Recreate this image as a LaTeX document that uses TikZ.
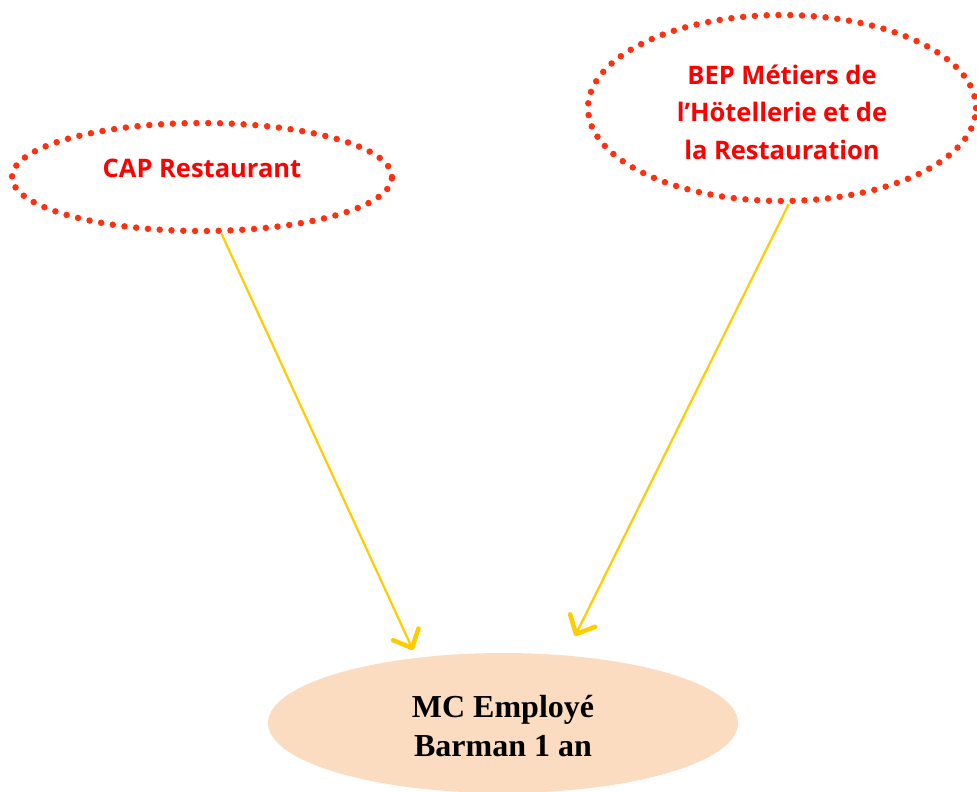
\documentclass[tikz,border=0pt]{standalone}
\usepackage{fontspec}
\setmainfont{Liberation Serif}
\newfontfamily\comicfont{Open Sans}
\usetikzlibrary{shapes.geometric,arrows.meta}
\definecolor{dotred}{HTML}{FF3010}
\definecolor{txtred}{HTML}{FF0000}
\definecolor{peach}{HTML}{FBDCC1}
\definecolor{gold}{HTML}{FFCC00}
\tikzset{
  dotted ellipse/.style={ellipse, draw=dotred, line width=6.5pt, line cap=round,
     dash pattern=on 0pt off 11.8pt, inner sep=0pt},
  redtext/.style={text=txtred, align=center,
     font=\comicfont\bfseries\fontsize{25.5}{37.5}\selectfont},
  target/.style={ellipse, fill=peach, draw=none, inner sep=0pt},
  blacktext/.style={align=center, font=\bfseries\fontsize{32}{39}\selectfont},
  link/.style={draw=gold, line width=2.2pt,
     -{Straight Barb[length=15pt,width=28pt,line width=4.5pt,round]}}
}
\begin{document}
\begin{tikzpicture}[x=1pt,y=-1pt]
\useasboundingbox (0,0) rectangle (977,792);
\clip (0,0) rectangle (977,792);
\node[dotted ellipse, minimum width=380pt, minimum height=108pt] (cap) at (202,177) {};
\node[redtext] (captxt) at (202,168) {CAP Restaurant};
\node[dotted ellipse, minimum width=388pt, minimum height=186pt] (bep) at (782,108) {};
\node[redtext] (beptxt) at (782,112) {BEP Métiers de\\l’Hötellerie et de\\la Restauration};
\node[target, minimum width=470pt, minimum height=140pt] (mc) at (503,723) {};
\node[blacktext] (mctxt) at (503,726) {MC Employé\\Barman 1 an};
\coordinate (e1) at (413,650);
\coordinate (e2) at (575,636);
\draw[link] (cap.-71) -- (e1);
\draw[link] (bep.-86) -- (e2);
\end{tikzpicture}
\end{document}
